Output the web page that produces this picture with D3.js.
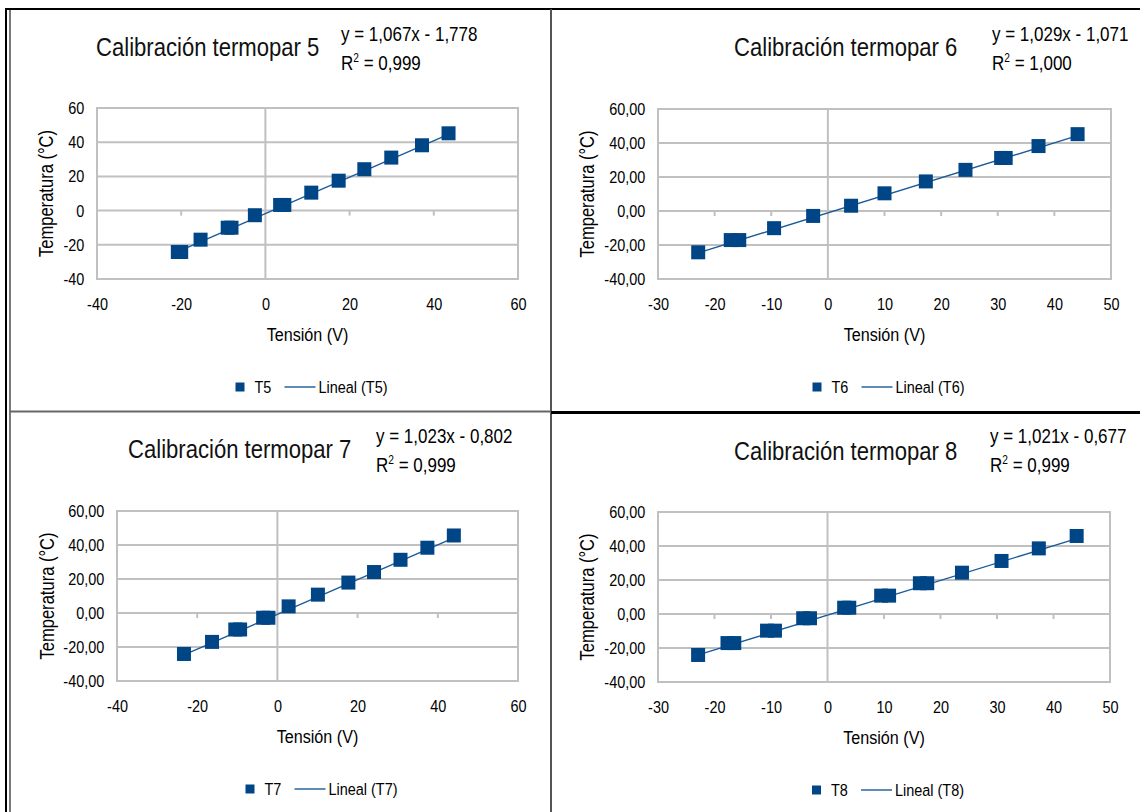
<!DOCTYPE html>
<html>
<head>
<meta charset="utf-8">
<script src="https://cdn.jsdelivr.net/npm/d3@7"></script>
<style>
  body { margin: 0; background: #fff; }
  svg { display: block; font-family: "Liberation Sans", Arial, sans-serif; }
</style>
</head>
<body>
<script>
// datos (tension V, temperatura C)
const t5Volt = [-20.8, -20.0, -15.4, -8.95, -8.05, -2.5, 3.5, 4.5, 10.9, 17.4, 23.5, 29.9, 37.2, 43.5];
const t5Temp = [-24.2, -24.2, -17.0, -10.0, -10.0, -2.7, 3.3, 3.3, 10.5, 17.5, 24.2, 31.0, 38.2, 45.2];

const t6Volt = [-22.9, -17.15, -15.65, -9.5, -2.6, 4.1, 10.0, 17.3, 24.3, 30.6, 31.4, 37.2, 44.1];
const t6Temp = [-24.3, -17.1, -17.1, -10.1, -2.9, 3.1, 10.4, 17.4, 24.2, 31.2, 31.2, 38.2, 45.2];

const t7Volt = [-23.3, -16.3, -10.5, -9.3, -3.55, -2.25, 2.8, 10.1, 17.7, 24.1, 30.7, 37.4, 44.0];
const t7Temp = [-24.1, -17.0, -9.7, -9.7, -2.8, -2.8, 3.9, 10.8, 17.9, 24.1, 31.3, 38.4, 45.6];

const t8Volt = [-22.9, -17.7, -16.5, -10.7, -9.3, -4.3, -3.1, 2.95, 3.85, 9.5, 10.9, 16.35, 17.65, 23.8, 30.8, 37.4, 44.1];
const t8Temp = [-24.1, -17.1, -17.1, -9.8, -9.8, -2.5, -2.5, 3.7, 3.7, 10.8, 10.8, 18.1, 18.1, 24.3, 31.2, 38.6, 45.9];

// rectas de ajuste (y = m x + b) y R2
const slopes = [1.067, 1.029, 1.023, 1.021];
const intercepts = [-1.778, -1.071, -0.802, -0.677];
const eqLabels = ["y = 1,067x - 1,778", "y = 1,029x - 1,071", "y = 1,023x - 0,802", "y = 1,021x - 0,677"];
const r2Labels = ["0,999", "1,000", "0,999", "0,999"];

const titles = ["Calibración termopar 5", "Calibración termopar 6", "Calibración termopar 7", "Calibración termopar 8"];
const seriesNames = ["T5", "T6", "T7", "T8"];

// ejes
const xTicksWide = [-40, -20, 0, 20, 40, 60];
const xTicksNarrow = [-30, -20, -10, 0, 10, 20, 30, 40, 50];
const yTicks = [-40, -20, 0, 20, 40, 60];

const xLabel = "Tensión (V)";
const yLabel = "Temperatura (°C)";

const blue = "#004586";
const gridColor = "#c0c0c0";
const SX = 0.85; // la captura original tiene el texto estrecho

const locale = d3.formatLocale({ decimal: ",", thousands: ".", grouping: [3], currency: ["", ""], minus: "-" });
const fmtInt = locale.format("d");
const fmt2 = locale.format(".2f");

const svg = d3.select("body").append("svg")
    .attr("width", 1140)
    .attr("height", 812);

// marcos del documento (celdas de la tabla)
function frameLine(x1, y1, x2, y2, color, w) {
    svg.append("line")
        .attr("x1", x1).attr("y1", y1).attr("x2", x2).attr("y2", y2)
        .attr("stroke", color).attr("stroke-width", w);
}
frameLine(6, 8, 6, 812, "#000", 2);
frameLine(10, 10, 10, 812, "#7a7a7a", 2);
frameLine(5, 9, 1140, 9, "#000", 2);
frameLine(551, 9, 551, 812, "#555", 2);
frameLine(10, 411.5, 551, 411.5, "#666", 2);
frameLine(551, 412.5, 1140, 412.5, "#000", 3);

function addText(g, x, y, size, str, anchor) {
    return g.append("text")
        .attr("transform", "translate(" + x + "," + y + ") scale(" + SX + ",1)")
        .attr("text-anchor", anchor || "start")
        .style("font-size", size + "px")
        .text(str);
}

const panels = [
    { xs: t5Volt, ys: t5Temp, xDomain: [-40, 60], xTicks: xTicksWide, yFmt: fmtInt,
      left: 97, right: 518, top: 108, bottom: 279, yTitleX: 46,
      titleX: 96, titleY: 56, eqX: 341, eqY: 41 },
    { xs: t6Volt, ys: t6Temp, xDomain: [-30, 50], xTicks: xTicksNarrow, yFmt: fmt2,
      left: 658, right: 1111, top: 109, bottom: 279, yTitleX: 587,
      titleX: 734, titleY: 56, eqX: 992, eqY: 41 },
    { xs: t7Volt, ys: t7Temp, xDomain: [-40, 60], xTicks: xTicksWide, yFmt: fmt2,
      left: 117, right: 518, top: 511, bottom: 681, yTitleX: 47,
      titleX: 128, titleY: 458, eqX: 376, eqY: 443 },
    { xs: t8Volt, ys: t8Temp, xDomain: [-30, 50], xTicks: xTicksNarrow, yFmt: fmt2,
      left: 658, right: 1110, top: 512, bottom: 682, yTitleX: 587,
      titleX: 734, titleY: 460, eqX: 990, eqY: 443 }
];

panels.forEach(function(p, i) {
    drawPanel(p, i);
});

function drawPanel(p, i) {
    const g = svg.append("g");
    const x = d3.scaleLinear().domain(p.xDomain).range([p.left, p.right]);
    const y = d3.scaleLinear().domain([-40, 60]).range([p.bottom, p.top]);

    // rejilla horizontal
    g.selectAll(".hgrid").data(yTicks).enter().append("line")
        .attr("x1", p.left).attr("x2", p.right)
        .attr("y1", d => y(d)).attr("y2", d => y(d))
        .attr("stroke", gridColor).attr("stroke-width", 2);

    // eje vertical en x = 0
    g.append("line")
        .attr("x1", x(0)).attr("x2", x(0))
        .attr("y1", p.top).attr("y2", p.bottom)
        .attr("stroke", gridColor).attr("stroke-width", 2);

    // marcas del eje x sobre y = 0
    g.selectAll(".xtick").data(p.xTicks.filter(d => d !== 0 && d !== p.xDomain[0] && d !== p.xDomain[1]))
        .enter().append("line")
        .attr("x1", d => x(d)).attr("x2", d => x(d))
        .attr("y1", y(0)).attr("y2", y(0) + 5)
        .attr("stroke", gridColor).attr("stroke-width", 2);

    g.append("rect")
        .attr("x", p.left).attr("y", p.top)
        .attr("width", p.right - p.left).attr("height", p.bottom - p.top)
        .attr("fill", "none").attr("stroke", gridColor).attr("stroke-width", 2);

    // etiquetas de los ejes
    const xAxis = g.append("g")
        .attr("transform", "translate(0," + p.bottom + ")")
        .call(d3.axisBottom(x).tickValues(p.xTicks).tickSize(0).tickPadding(19).tickFormat(fmtInt));
    const yAxis = g.append("g")
        .attr("transform", "translate(" + p.left + ",0)")
        .call(d3.axisLeft(y).tickValues(yTicks).tickSize(0).tickPadding(15).tickFormat(p.yFmt));
    [xAxis, yAxis].forEach(function(a) {
        a.select(".domain").remove();
        a.selectAll("text")
            .attr("fill", "#000")
            .attr("transform", "scale(" + SX + ",1)")
            .style("font-size", "17px")
            .style("font-family", "'Liberation Sans', Arial, sans-serif");
    });

    // recta de ajuste en el rango de los datos
    const ext = d3.extent(p.xs);
    g.append("line")
        .attr("x1", x(ext[0])).attr("y1", y(slopes[i] * ext[0] + intercepts[i]))
        .attr("x2", x(ext[1])).attr("y2", y(slopes[i] * ext[1] + intercepts[i]))
        .attr("stroke", "#1b5a9a").attr("stroke-width", 1.4);

    const pts = p.xs.map((v, k) => ({ v: v, t: p.ys[k] }));
    g.selectAll(".pt").data(pts).enter().append("rect")
        .attr("x", d => x(d.v) - 7)
        .attr("y", d => y(d.t) - 7)
        .attr("width", 14).attr("height", 14)
        .attr("fill", blue);

    // titulos
    addText(g, p.titleX, p.titleY, 26, titles[i]).attr("fill", "#111");
    addText(g, p.eqX, p.eqY, 20, eqLabels[i]);
    const r2 = addText(g, p.eqX, p.eqY + 29, 20, "");
    r2.append("tspan").text("R");
    r2.append("tspan").attr("dy", -8).style("font-size", "12px").text("2");
    r2.append("tspan").attr("dy", 8).text(" = " + r2Labels[i]);

    const cx = (p.left + p.right) / 2;
    addText(g, cx, p.bottom + 62, 19, xLabel, "middle");

    g.append("text")
        .attr("transform", "translate(" + p.yTitleX + "," + ((p.top + p.bottom) / 2) + ") rotate(-90) scale(" + SX + ",1)")
        .attr("text-anchor", "middle")
        .attr("dy", "0.35em")
        .style("font-size", "19.5px")
        .text(yLabel);

    // leyenda
    const ly = p.bottom + 108;
    g.append("rect")
        .attr("x", cx - 72).attr("y", ly - 4.5)
        .attr("width", 9).attr("height", 9)
        .attr("fill", blue);
    addText(g, cx - 53, ly, 17, seriesNames[i]).attr("dy", "0.35em");
    g.append("line")
        .attr("x1", cx - 23).attr("x2", cx + 8)
        .attr("y1", ly).attr("y2", ly)
        .attr("stroke", "#1b5a9a").attr("stroke-width", 1.4);
    addText(g, cx + 11, ly, 17, "Lineal (" + seriesNames[i] + ")").attr("dy", "0.35em");
}
</script>
</body>
</html>
